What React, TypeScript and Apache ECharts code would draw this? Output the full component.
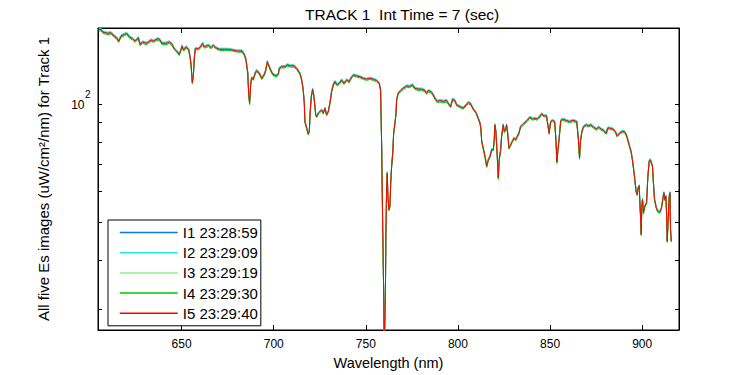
import React, { useEffect, useRef } from 'react';
import * as echarts from 'echarts';

const titleText = 'TRACK 1  Int Time = 7 (sec)';
const xName = 'Wavelength (nm)';
const yName = 'All five Es images (uW/cm²/nm) for Track 1';
const seriesNames = ['I1 23:28:59', 'I2 23:29:09', 'I3 23:29:19', 'I4 23:29:30', 'I5 23:29:40'];
const seriesColors = ['#0a78e6', '#1ee6e6', '#8cee8c', '#00c800', '#ff0000'];
const xTicks = [650, 700, 750, 800, 850, 900];
const yTicks = [30, 40, 50, 60, 70, 80, 90, 100];
const xMin = 604.6;
const xMax = 920;
const yMin = 26.45;
const yMax = 156.2;

const wavelengths = [
  605.0,606.2,607.2,609.9,611.7,613.4,614.7,615.8,617.1,618.9,
  620.2,621.6,623.4,624.8,626.5,627.4,628.9,630.7,632.1,633.4,
  634.6,635.7,637.2,638.3,639.3,641.5,643.3,644.8,646.0,647.3,
  648.7,649.7,650.2,651.1,652.4,653.8,654.5,655.1,655.8,656.4,
  656.9,657.4,659.3,660.5,661.4,662.3,663.6,664.7,665.9,667.2,
  668.6,670.4,673.2,675.0,677.7,680.4,682.8,684.0,684.9,685.9,
  686.4,686.9,687.5,688.0,688.9,690.0,690.7,692.0,693.5,694.7,
  695.6,696.5,697.6,698.5,699.4,701.2,702.5,703.0,704.3,706.1,
  707.3,709.2,711.0,712.4,714.2,715.2,716.0,716.6,716.9,717.9,
  718.7,719.3,719.8,720.4,721.1,721.7,722.2,722.8,723.3,724.2,
  725.1,726.0,726.9,727.8,728.7,729.6,730.5,731.4,732.3,733.2,
  734.5,735.6,736.9,738.1,739.6,741.0,742.3,743.5,745.0,746.8,
  748.6,750.4,752.2,754.0,755.9,757.3,758.0,758.6,759.1,759.7,
  760.0,760.6,760.9,761.3,761.6,762.0,762.5,763.1,763.5,764.0,
  764.6,765.1,765.8,766.4,766.7,767.6,768.9,770.3,772.2,773.6,
  775.4,776.6,778.4,780.3,782.1,783.0,783.9,785.7,786.6,787.5,
  788.8,790.2,792.0,793.9,795.3,796.0,797.1,798.4,799.3,801.1,
  802.9,804.4,805.6,806.9,808.4,809.8,811.0,812.0,812.5,812.9,
  813.7,814.7,815.6,816.5,817.4,818.3,819.2,819.7,820.1,820.6,
  821.3,821.9,822.4,823.2,823.7,824.6,825.2,825.9,826.4,827.0,
  827.7,828.6,829.5,830.4,831.3,832.2,833.1,834.0,835.1,836.4,
  837.6,839.1,840.6,841.8,843.0,844.1,845.4,846.7,848.1,848.8,
  849.5,850.3,851.4,852.5,853.2,853.7,854.3,855.0,855.8,856.9,
  858.7,860.5,862.4,864.5,865.4,866.0,866.5,867.3,868.2,869.7,
  870.9,872.2,873.6,875.1,876.4,877.7,879.1,880.5,881.3,882.3,
  884.2,885.4,886.4,887.8,889.1,890.3,891.4,892.1,893.2,894.0,
  894.7,895.4,896.0,896.7,897.3,897.8,898.4,898.7,899.1,899.5,
  899.8,900.2,900.7,901.4,902.4,903.1,903.8,904.4,905.1,905.6,
  906.0,906.7,907.7,908.5,909.6,910.5,911.3,911.8,912.3,912.9,
  913.3,913.6,914.2,914.7,915.1,915.4,915.8
];

const i1Values = [
  154.7,155.3,152.9,151.7,152.3,149.3,147.9,145.0,149.3,150.8,
  151.7,148.7,147.0,145.0,147.9,142.3,144.2,143.1,144.2,145.9,
  145.0,145.9,147.0,145.9,143.1,143.1,144.2,142.3,138.7,136.8,
  134.2,138.2,140.9,137.6,140.3,138.2,132.9,126.6,113.6,119.3,
  131.5,138.7,138.7,140.9,143.1,140.3,140.9,141.5,139.5,141.5,
  139.5,138.2,138.2,138.2,137.6,136.8,136.8,134.2,130.3,120.5,
  106.2,100.7,112.5,117.0,115.9,120.5,122.0,120.5,116.5,118.8,
  122.0,128.5,124.8,122.0,119.5,118.1,119.5,123.7,124.8,124.8,
  126.1,125.4,125.4,123.7,120.0,115.4,108.8,100.7,90.3,86.9,
  84.1,85.2,95.8,104.7,109.3,105.7,100.7,94.0,93.0,94.9,
  95.8,96.7,94.9,97.7,94.0,95.8,100.7,107.8,112.1,114.3,
  112.1,113.2,115.4,113.2,115.4,114.3,117.6,118.8,118.1,117.6,
  116.5,115.9,116.5,115.9,114.9,113.2,108.8,78.0,50.8,32.4,
  24.1,32.4,47.0,61.8,66.8,58.2,53.8,54.9,63.0,69.5,
  75.1,84.4,89.5,94.9,102.7,106.8,108.4,109.9,111.4,111.0,
  112.1,109.9,109.3,109.3,108.4,106.8,108.4,107.4,105.7,103.7,
  101.7,102.2,101.7,102.2,99.6,98.6,103.1,102.2,99.6,98.6,
  97.7,99.6,101.1,100.3,97.1,95.2,92.1,89.5,86.1,80.4,
  77.3,73.6,69.5,72.2,73.6,76.6,76.6,81.2,88.6,85.2,
  74.4,64.9,72.2,76.6,82.8,88.6,85.2,86.1,88.6,84.4,
  77.3,78.8,80.4,82.0,81.2,82.8,84.4,87.7,88.6,89.8,
  90.9,92.7,91.6,92.1,91.6,92.7,94.5,93.4,93.4,88.6,
  84.4,90.3,90.9,90.3,81.2,71.2,76.6,82.4,90.9,91.6,
  90.9,90.3,90.9,90.3,81.2,72.9,80.4,85.2,87.7,88.6,
  88.1,88.6,87.4,86.4,87.4,86.4,85.7,84.4,86.9,86.9,
  86.4,85.2,83.1,84.4,85.2,85.2,83.6,81.5,78.0,75.8,
  72.2,68.2,64.3,60.0,58.9,61.2,62.0,57.2,51.8,46.5,
  54.9,57.2,52.8,54.9,56.0,65.5,71.5,72.2,70.8,69.5,
  64.3,57.2,54.4,53.3,53.0,54.4,57.6,59.5,57.2,58.3,
  51.8,44.7,51.8,58.3,59.5,47.9,44.7
];

const i2Values = [
  155.4,156.0,153.6,152.4,153.0,150.0,148.6,145.7,150.0,151.5,
  152.4,149.4,147.7,145.7,148.6,143.0,144.9,143.8,144.9,146.6,
  145.7,146.6,147.7,146.6,143.8,143.8,144.9,143.0,139.2,137.3,
  134.7,138.7,141.6,138.1,140.8,138.7,133.4,127.1,114.1,119.8,
  132.0,139.2,139.2,141.6,143.8,140.8,141.6,142.2,140.0,142.2,
  140.0,138.7,138.7,138.7,138.1,137.3,137.3,134.7,130.8,120.9,
  106.7,101.2,113.0,117.5,116.4,120.9,122.5,120.9,117.0,119.3,
  122.5,129.0,125.3,122.5,120.0,118.6,120.0,124.2,125.3,125.3,
  126.6,125.9,125.9,124.2,120.5,115.9,109.3,101.2,90.7,87.3,
  84.5,85.6,96.2,105.2,109.8,106.2,101.2,94.4,93.4,95.3,
  96.2,97.1,95.3,98.1,94.4,96.2,101.2,108.3,112.6,114.8,
  112.6,113.7,115.9,113.7,115.9,114.8,118.1,119.3,118.6,118.1,
  117.0,116.4,117.0,116.4,115.4,113.7,109.3,78.3,51.1,32.6,
  24.2,32.6,47.3,62.1,67.1,58.5,54.1,55.2,63.3,69.8,
  75.4,84.8,89.9,95.3,103.2,107.3,108.9,110.4,111.9,111.5,
  112.6,110.4,109.8,109.8,108.9,107.3,108.9,107.9,106.2,104.2,
  102.2,102.7,102.2,102.7,100.0,99.0,103.6,102.7,100.0,99.0,
  98.1,100.0,101.6,100.8,97.5,95.6,92.5,89.9,86.5,80.7,
  77.6,73.9,69.8,72.5,73.9,76.9,76.9,81.6,89.0,85.6,
  74.7,65.2,72.5,76.9,83.2,89.0,85.6,86.5,89.0,84.8,
  77.6,79.1,80.7,82.4,81.6,83.2,84.8,88.1,89.0,90.2,
  91.3,93.1,92.0,92.5,92.0,93.1,94.9,93.8,93.8,89.0,
  84.8,90.7,91.3,90.7,81.6,71.5,76.9,82.8,91.3,92.0,
  91.3,90.7,91.3,90.7,81.6,73.2,80.7,85.6,88.1,89.0,
  88.5,89.0,87.8,86.8,87.8,86.8,86.1,84.8,87.3,87.3,
  86.8,85.6,83.5,84.8,85.6,85.6,84.0,81.9,78.3,76.1,
  72.5,68.5,64.6,60.2,59.1,61.4,62.2,57.4,52.1,46.7,
  55.2,57.4,53.1,55.2,56.3,65.8,71.8,72.5,71.1,69.8,
  64.6,57.4,54.7,53.6,53.3,54.7,57.9,59.7,57.4,58.5,
  52.1,44.9,52.1,58.5,59.7,48.1,44.9
];

const i3Values = [
  153.9,154.5,152.1,150.9,151.5,148.5,147.1,144.2,148.5,150.0,
  150.9,147.9,146.2,144.2,147.1,141.5,143.4,142.3,143.4,145.1,
  144.2,145.1,146.2,145.1,142.3,142.3,143.4,141.5,137.9,136.0,
  133.4,137.4,140.1,136.8,139.5,137.4,132.1,125.8,113.0,118.7,
  130.7,137.9,137.9,140.1,142.3,139.5,140.1,140.7,138.7,140.7,
  138.7,137.4,137.4,137.4,136.8,136.0,136.0,133.4,129.5,119.7,
  105.6,100.1,111.9,116.4,115.3,119.7,121.2,119.7,115.9,118.2,
  121.2,127.7,124.0,121.2,118.9,117.5,118.9,122.9,124.0,124.0,
  125.3,124.6,124.6,122.9,119.4,114.8,108.2,100.1,89.9,86.5,
  83.7,84.8,95.4,104.1,108.7,105.1,100.1,93.6,92.6,94.5,
  95.4,96.3,94.5,97.3,93.6,95.4,100.1,107.2,111.5,113.7,
  111.5,112.6,114.8,112.6,114.8,113.7,117.0,118.2,117.5,117.0,
  115.9,115.3,115.9,115.3,114.3,112.6,108.2,77.6,50.6,32.2,
  23.9,32.2,46.8,61.4,66.4,57.9,53.6,54.7,62.6,69.1,
  74.7,84.0,89.1,94.5,102.1,106.2,107.8,109.3,110.8,110.4,
  111.5,109.3,108.7,108.7,107.8,106.2,107.8,106.8,105.1,103.1,
  101.1,101.6,101.1,101.6,99.2,98.2,102.5,101.6,99.2,98.2,
  97.3,99.2,100.5,99.7,96.7,94.8,91.7,89.1,85.7,80.0,
  76.9,73.2,69.1,71.8,73.2,76.2,76.2,80.8,88.2,84.8,
  74.0,64.5,71.8,76.2,82.4,88.2,84.8,85.7,88.2,84.0,
  76.9,78.4,80.0,81.6,80.8,82.4,84.0,87.3,88.2,89.4,
  90.5,92.3,91.2,91.7,91.2,92.3,94.1,93.0,93.0,88.2,
  84.0,89.9,90.5,89.9,80.8,70.8,76.2,82.0,90.5,91.2,
  90.5,89.9,90.5,89.9,80.8,72.5,80.0,84.8,87.3,88.2,
  87.7,88.2,87.0,86.0,87.0,86.0,85.3,84.0,86.5,86.5,
  86.0,84.8,82.7,84.0,84.8,84.8,83.2,81.1,77.6,75.4,
  71.8,67.8,63.9,59.6,58.5,60.8,61.6,56.8,51.5,46.3,
  54.7,56.8,52.6,54.7,55.8,65.1,71.1,71.8,70.4,69.1,
  63.9,56.8,54.2,53.1,52.8,54.2,57.4,59.1,56.8,57.9,
  51.5,44.5,51.5,57.9,59.1,47.7,44.5
];

const i4Values = [
  153.2,153.8,151.4,150.2,150.8,147.8,146.4,143.5,147.8,149.3,
  150.2,147.2,145.5,143.5,146.4,140.8,142.7,141.6,142.7,144.4,
  143.5,144.4,145.5,144.4,141.6,141.6,142.7,140.8,137.4,135.5,
  132.9,136.9,139.4,136.3,138.8,136.9,131.6,125.3,112.5,118.2,
  130.2,137.4,137.4,139.4,141.6,138.8,139.4,140.0,138.2,140.0,
  138.2,136.9,136.9,136.9,136.3,135.5,135.5,132.9,129.0,119.3,
  105.1,99.6,111.4,115.9,114.8,119.3,120.7,119.3,115.4,117.7,
  120.7,127.2,123.5,120.7,118.4,117.0,118.4,122.4,123.5,123.5,
  124.8,124.1,124.1,122.4,118.9,114.3,107.7,99.6,89.5,86.1,
  83.3,84.4,95.0,103.6,108.2,104.6,99.6,93.2,92.2,94.1,
  95.0,95.9,94.1,96.9,93.2,95.0,99.6,106.7,111.0,113.2,
  111.0,112.1,114.3,112.1,114.3,113.2,116.5,117.7,117.0,116.5,
  115.4,114.8,115.4,114.8,113.8,112.1,107.7,77.3,50.3,32.0,
  23.8,32.0,46.5,61.1,66.1,57.7,53.3,54.4,62.3,68.8,
  74.4,83.6,88.7,94.1,101.6,105.7,107.3,108.8,110.3,109.9,
  111.0,108.8,108.2,108.2,107.3,105.7,107.3,106.3,104.6,102.6,
  100.6,101.1,100.6,101.1,98.8,97.8,102.0,101.1,98.8,97.8,
  96.9,98.8,100.0,99.2,96.3,94.4,91.3,88.7,85.3,79.7,
  76.6,72.9,68.8,71.5,72.9,75.9,75.9,80.4,87.8,84.4,
  73.7,64.2,71.5,75.9,82.0,87.8,84.4,85.3,87.8,83.6,
  76.6,78.1,79.7,81.2,80.4,82.0,83.6,86.9,87.8,89.0,
  90.1,91.9,90.8,91.3,90.8,91.9,93.7,92.6,92.6,87.8,
  83.6,89.5,90.1,89.5,80.4,70.5,75.9,81.6,90.1,90.8,
  90.1,89.5,90.1,89.5,80.4,72.2,79.7,84.4,86.9,87.8,
  87.3,87.8,86.6,85.6,86.6,85.6,84.9,83.6,86.1,86.1,
  85.6,84.4,82.3,83.6,84.4,84.4,82.8,80.7,77.3,75.1,
  71.5,67.5,63.6,59.4,58.3,60.6,61.4,56.6,51.3,46.1,
  54.4,56.6,52.3,54.4,55.5,64.8,70.8,71.5,70.1,68.8,
  63.6,56.6,53.9,52.8,52.5,53.9,57.1,58.9,56.6,57.7,
  51.3,44.3,51.3,57.7,58.9,47.5,44.3
];

const i5Values = [
  154.3,154.9,152.5,151.3,151.9,148.9,147.5,144.6,148.9,150.4,
  151.3,148.3,146.6,144.6,147.5,141.9,143.8,142.7,143.8,145.5,
  144.6,145.5,146.6,145.5,142.7,142.7,143.8,141.9,138.3,136.4,
  133.8,137.8,140.5,137.2,139.9,137.8,132.5,126.2,113.3,119.0,
  131.1,138.3,138.3,140.5,142.7,139.9,140.5,141.1,139.1,141.1,
  139.1,137.8,137.8,137.8,137.2,136.4,136.4,133.8,129.9,120.1,
  105.9,100.4,112.2,116.7,115.6,120.1,121.6,120.1,116.2,118.5,
  121.6,128.1,124.4,121.6,119.2,117.8,119.2,123.3,124.4,124.4,
  125.7,125.0,125.0,123.3,119.7,115.1,108.5,100.4,90.1,86.7,
  83.9,85.0,95.6,104.4,109.0,105.4,100.4,93.8,92.8,94.7,
  95.6,96.5,94.7,97.5,93.8,95.6,100.4,107.5,111.8,114.0,
  111.8,112.9,115.1,112.9,115.1,114.0,117.3,118.5,117.8,117.3,
  116.2,115.6,116.2,115.6,114.6,112.9,108.5,77.8,50.7,32.3,
  24.0,32.3,46.9,61.6,66.6,58.1,53.7,54.8,62.8,69.3,
  74.9,84.2,89.3,94.7,102.4,106.5,108.1,109.6,111.1,110.7,
  111.8,109.6,109.0,109.0,108.1,106.5,108.1,107.1,105.4,103.4,
  101.4,101.9,101.4,101.9,99.4,98.4,102.8,101.9,99.4,98.4,
  97.5,99.4,100.8,100.0,96.9,95.0,91.9,89.3,85.9,80.2,
  77.1,73.4,69.3,72.0,73.4,76.4,76.4,81.0,88.4,85.0,
  74.2,64.7,72.0,76.4,82.6,88.4,85.0,85.9,88.4,84.2,
  77.1,78.6,80.2,81.8,81.0,82.6,84.2,87.5,88.4,89.6,
  90.7,92.5,91.4,91.9,91.4,92.5,94.3,93.2,93.2,88.4,
  84.2,90.1,90.7,90.1,81.0,71.0,76.4,82.2,90.7,91.4,
  90.7,90.1,90.7,90.1,81.0,72.7,80.2,85.0,87.5,88.4,
  87.9,88.4,87.2,86.2,87.2,86.2,85.5,84.2,86.7,86.7,
  86.2,85.0,82.9,84.2,85.0,85.0,83.4,81.3,77.8,75.6,
  72.0,68.0,64.1,59.8,58.7,61.0,61.8,57.0,51.7,46.4,
  54.8,57.0,52.7,54.8,55.9,65.3,71.3,72.0,70.6,69.3,
  64.1,57.0,54.3,53.2,52.9,54.3,57.5,59.3,57.0,58.1,
  51.7,44.6,51.7,58.1,59.3,47.8,44.6
];

const allValues = [i1Values, i2Values, i3Values, i4Values, i5Values];

const FONT = '"Liberation Sans", Arial, Helvetica, sans-serif';

export default function App() {
  const ref = useRef<HTMLDivElement>(null);

  useEffect(() => {
    if (!ref.current) return;
    const chart = echarts.init(ref.current, undefined, { renderer: 'svg' });

    const option: any = {
      animation: false,
      backgroundColor: '#ffffff',
      title: {
        text: titleText,
        left: 305,
        top: 6,
        padding: 0,
        textStyle: { fontFamily: FONT, fontSize: 15.5, fontWeight: 'normal', color: '#000' },
      },
      grid: {
        left: 98,
        right: 71,
        top: 28,
        bottom: 44,
        show: true,
        borderColor: '#000',
        borderWidth: 1,
        backgroundColor: '#fff',
      },
      legend: {
        orient: 'vertical',
        left: 108,
        top: 220,
        padding: [5, 3, 5, 11],
        itemGap: 5.2,
        itemWidth: 58,
        itemHeight: 14,
        backgroundColor: '#fff',
        borderColor: '#000',
        borderWidth: 1,
        borderRadius: 0,
        itemStyle: { color: 'rgba(0,0,0,0)', borderColor: 'rgba(0,0,0,0)', borderWidth: 0, opacity: 0 },
        lineStyle: { width: 1.5 },
        textStyle: { fontFamily: FONT, fontSize: 15, color: '#000' },
        data: seriesNames,
      },
      xAxis: [
        {
          type: 'value',
          min: xMin,
          max: xMax,
          position: 'bottom',
          splitLine: { show: false },
          axisLine: { show: true, lineStyle: { color: '#000', width: 1 } },
          axisTick: { show: true, inside: true, length: 5, lineStyle: { color: '#000' }, customValues: xTicks },
          axisLabel: { customValues: xTicks, color: '#000', fontSize: 12, fontFamily: FONT, margin: 8 },
          name: xName,
          nameLocation: 'middle',
          nameGap: 25,
          nameTextStyle: { fontFamily: FONT, fontSize: 14.5, color: '#000' },
        },
        {
          type: 'value',
          min: xMin,
          max: xMax,
          position: 'top',
          splitLine: { show: false },
          axisLine: { show: true, lineStyle: { color: '#000', width: 1 } },
          axisTick: { show: true, inside: true, length: 5, lineStyle: { color: '#000' }, customValues: xTicks },
          axisLabel: { show: false },
        },
      ],
      yAxis: [
        {
          type: 'log',
          min: yMin,
          max: yMax,
          position: 'left',
          splitLine: { show: false },
          axisLine: { show: true, lineStyle: { color: '#000', width: 1 } },
          axisTick: { show: false },
          minorTick: { show: false },
          axisLabel: { show: false },
          name: yName,
          nameLocation: 'middle',
          nameGap: 47,
          nameTextStyle: { fontFamily: FONT, fontSize: 15, color: '#000' },
        },
        {
          type: 'log',
          min: yMin,
          max: yMax,
          position: 'right',
          splitLine: { show: false },
          axisLine: { show: true, lineStyle: { color: '#000', width: 1 } },
          axisTick: { show: false },
          axisLabel: { show: false },
        },
      ],
      series: seriesNames.map((name, k) => ({
        type: 'line',
        name,
        xAxisIndex: 0,
        yAxisIndex: 0,
        data: wavelengths.map((w, i) => [w, allValues[k][i]]),
        symbol: 'none',
        showSymbol: false,
        clip: true,
        lineStyle: { width: 1, color: seriesColors[k] },
        itemStyle: { color: seriesColors[k] },
      })),
    };

    chart.setOption(option);

    const gridLeft = 98;
    const gridRight = 679;
    const graphics: any[] = [];
    yTicks.forEach((v) => {
      const py = Math.round(chart.convertToPixel({ yAxisIndex: 0 }, v) as number) + 0.5;
      graphics.push({
        type: 'line',
        shape: { x1: gridLeft, y1: py, x2: gridLeft + 4, y2: py },
        style: { stroke: '#000', lineWidth: 1 },
        silent: true,
      });
      graphics.push({
        type: 'line',
        shape: { x1: gridRight - 4, y1: py, x2: gridRight, y2: py },
        style: { stroke: '#000', lineWidth: 1 },
        silent: true,
      });
    });
    const p100 = chart.convertToPixel({ yAxisIndex: 0 }, 100) as number;
    graphics.push({
      type: 'text',
      x: 84.5,
      y: p100 + 1.5,
      style: {
        text: '10',
        font: `12px ${FONT}`,
        fill: '#000',
        align: 'right',
        verticalAlign: 'middle',
        textAlign: 'right',
        textVerticalAlign: 'middle',
      },
      silent: true,
    });
    graphics.push({
      type: 'text',
      x: 85,
      y: p100 - 9,
      style: {
        text: '2',
        font: `10px ${FONT}`,
        fill: '#000',
        align: 'left',
        verticalAlign: 'middle',
        textAlign: 'left',
        textVerticalAlign: 'middle',
      },
      silent: true,
    });
    chart.setOption({ graphic: graphics });

    return () => {
      chart.dispose();
    };
  }, []);

  return (
    <div
      ref={ref}
      style={{ position: 'absolute', left: 0, top: 0, width: 750, height: 375, background: '#fff' }}
    />
  );
}
